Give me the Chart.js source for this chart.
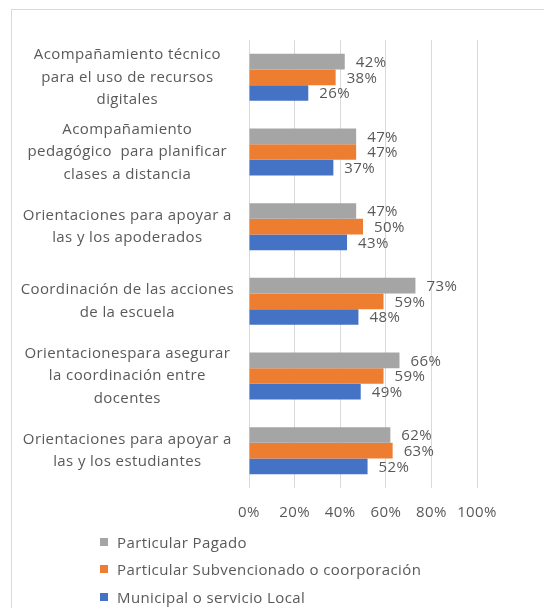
<!DOCTYPE html>
<html>
<head>
<meta charset="utf-8">
<script src="https://cdn.jsdelivr.net/npm/chart.js@4/dist/chart.umd.min.js"></script>
<style>
  html, body { margin: 0; padding: 0; background: #fff; overflow: hidden; }
  #wrap { position: relative; width: 544px; height: 608px; }
  #frame { position: absolute; left: 11px; top: 9px; width: 700px; height: 800px; border: 1px solid #d9d9d9; box-sizing: border-box; }
  canvas { position: absolute; left: 0; top: 0; }
  #legend { position: absolute; left: 100px; top: 528px; font-family: "Open Sans", sans-serif; font-size: 15px; letter-spacing: 0.4px; color: #595959; }
  #legend div { height: 27.5px; line-height: 22px; display: flex; align-items: center; white-space: nowrap; }
  #legend span.box { display: inline-block; width: 8px; height: 8px; margin-right: 9px; }
</style>
</head>
<body>
<div id="wrap">
  <div id="frame"></div>
  <canvas id="c" width="544" height="608"></canvas>
  <div id="legend"></div>
</div>
<script>
const categories = [
  ["Acompañamiento técnico", "para el uso de recursos", "digitales"],
  ["Acompañamiento", "pedagógico  para planificar", "clases a distancia"],
  ["Orientaciones para apoyar a", "las y los apoderados"],
  ["Coordinación de las acciones", "de la escuela"],
  ["Orientacionespara asegurar", "la coordinación entre", "docentes"],
  ["Orientaciones para apoyar a", "las y los estudiantes"]
];
const seriesNames = ["Particular Pagado", "Particular Subvencionado o coorporación", "Municipal o servicio Local"];
const particularPagado = [42, 47, 47, 73, 66, 62];
const particularSubvencionado = [38, 47, 50, 59, 59, 63];
const municipal = [26, 37, 43, 48, 49, 52];
const tickValues = [0, 20, 40, 60, 80, 100];
const colors = ["#a5a5a5", "#ed7d31", "#4472c4"];

const FONT = '"Open Sans", sans-serif';
const TEXT = '#595959';
const SPACING = '0.4px';

const spacing = {
  id: 'spacing',
  beforeUpdate(chart) { chart.ctx.letterSpacing = SPACING; },
  beforeLayout(chart) { chart.ctx.letterSpacing = SPACING; },
  beforeDraw(chart) { chart.ctx.letterSpacing = SPACING; }
};

const valueLabels = {
  id: 'valueLabels',
  afterDatasetsDraw(chart) {
    const ctx = chart.ctx;
    ctx.save();
    ctx.letterSpacing = SPACING;
    ctx.font = '15px ' + FONT;
    ctx.fillStyle = TEXT;
    ctx.textAlign = 'left';
    ctx.textBaseline = 'middle';
    chart.data.datasets.forEach((ds, di) => {
      const meta = chart.getDatasetMeta(di);
      meta.data.forEach((el, i) => {
        ctx.fillText(ds.data[i] + '%', el.x + 11, el.y + 1);
      });
    });
    ctx.restore();
  }
};

const seriesData = [particularPagado, particularSubvencionado, municipal];

new Chart(document.getElementById('c'), {
  type: 'bar',
  data: {
    labels: categories,
    datasets: seriesNames.map((n, i) => ({
      label: n,
      data: seriesData[i],
      backgroundColor: colors[i],
      borderWidth: 0,
      categoryPercentage: 0.63,
      barPercentage: 1.0
    }))
  },
  options: {
    indexAxis: 'y',
    responsive: false,
    animation: false,
    layout: { padding: { top: 40, right: 67, left: 12, bottom: 80 } },
    plugins: {
      legend: { display: false },
      tooltip: { enabled: false }
    },
    scales: {
      x: {
        min: 0, max: 100,
        afterBuildTicks(scale) { scale.ticks = tickValues.map(v => ({ value: v })); },
        afterFit(scale) { scale.height = 40; },
        grid: { color: '#d9d9d9', drawTicks: false, lineWidth: 1 },
        border: { display: false },
        ticks: {
          padding: 16,
          minRotation: 0,
          maxRotation: 0,
          autoSkip: false,
          color: TEXT,
          font: { family: FONT, size: 15 },
          callback: v => v + '%'
        }
      },
      y: {
        afterFit(scale) { scale.width = 237; },
        grid: { display: false, drawTicks: false },
        border: { display: false },
        ticks: {
          padding: 15,
          crossAlign: 'center',
          color: TEXT,
          font: { family: FONT, size: 15, lineHeight: 1.5 }
        }
      }
    }
  },
  plugins: [spacing, valueLabels]
});

const legend = document.getElementById('legend');
seriesNames.forEach((n, i) => {
  const d = document.createElement('div');
  const b = document.createElement('span');
  b.className = 'box';
  b.style.background = colors[i];
  d.appendChild(b);
  d.appendChild(document.createTextNode(n));
  legend.appendChild(d);
});
</script>
</body>
</html>
